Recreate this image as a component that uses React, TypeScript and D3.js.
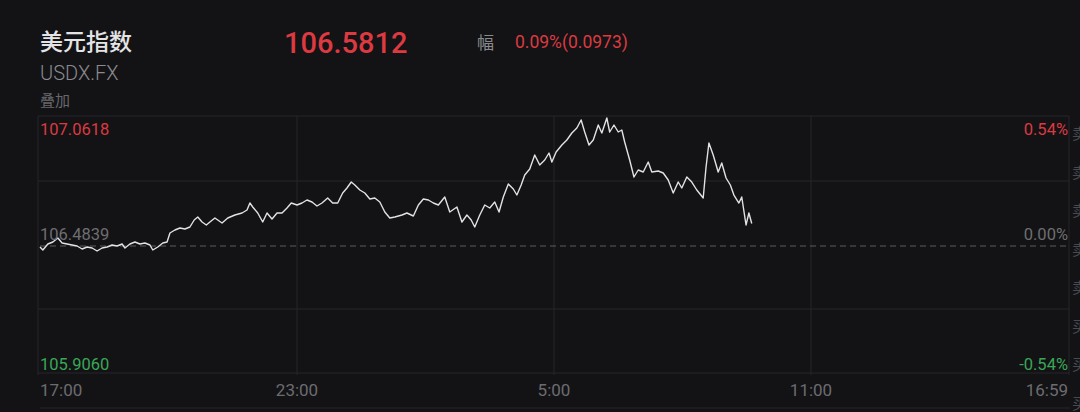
import React from "react";
import * as d3 from "d3";

// ---- data ----
const title = "美元指数";
const symbol = "USDX.FX";
const overlayLabel = "叠加";
const lastPrice = "106.5812";
const changeLabel = "幅";
const changeText = "0.09%(0.0973)";

const prevClose = 106.4839;
const priceHigh = 107.0618;
const priceLow = 105.906;
const priceTickLabels = ["107.0618", "106.4839", "105.9060"];
const pctTickLabels = ["0.54%", "0.00%", "-0.54%"];
const timeTickLabels = ["17:00", "23:00", "5:00", "11:00", "16:59"];
const timeTickMinutes = [0, 360, 720, 1080, 1440];
const sidePanelChars = ["卖", "卖", "卖", "卖", "卖", "买", "买", "买"];

// minutes since 17:00
const minutes = [
  0, 4, 11, 18, 25, 31, 38, 45, 52, 59, 66, 73, 80, 87, 94, 101, 108, 115, 119, 126,
  133, 140, 147, 154, 158, 165, 172, 178, 182, 189, 196, 203, 210, 216, 221, 227, 233, 238, 245, 255,
  263, 273, 283, 290, 294, 298, 305, 312, 318, 325, 332, 339, 346, 352, 360, 367, 374, 381, 388, 395,
  403, 410, 417, 424, 430, 436, 441, 448, 455, 462, 469, 476, 483, 490, 497, 507, 514, 523, 530, 537,
  544, 551, 558, 567, 574, 584, 591, 598, 604, 609, 616, 623, 630, 637, 643, 649, 656, 663, 668, 674,
  679, 686, 693, 700, 707, 713, 717, 723, 731, 738, 745, 752, 758, 763, 769, 775, 782, 787, 794, 798,
  804, 810, 815, 819, 826, 832, 838, 845, 852, 857, 866, 873, 880, 887, 894, 899, 906, 913, 920, 929,
  933, 937, 943, 950, 955, 961, 967, 972, 979, 983, 989, 993, 997,
];
const prices = [
  106.4749, 106.4613, 106.4884, 106.4974, 106.5155, 106.4929, 106.4884, 106.4839, 106.4794, 106.4658,
  106.4749, 106.4704, 106.4568, 106.4704, 106.4749, 106.4839, 106.4794, 106.4884, 106.4704, 106.4884,
  106.4974, 106.4884, 106.4929, 106.4839, 106.4613, 106.4749, 106.4929, 106.4974, 106.5381, 106.5516,
  106.5607, 106.5561, 106.5652, 106.5968, 106.6103, 106.5877, 106.5742, 106.5877, 106.6058, 106.5832,
  106.6058, 106.6193, 106.6284, 106.6419, 106.6735, 106.6555, 106.6284, 106.5877, 106.6284, 106.6013,
  106.6284, 106.6284, 106.6509, 106.6735, 106.6645, 106.6735, 106.6871, 106.678, 106.66, 106.6735,
  106.6961, 106.6735, 106.6735, 106.7187, 106.7412, 106.7683, 106.7548, 106.7322, 106.7187, 106.6916,
  106.6961, 106.678, 106.6329, 106.6058, 106.6103, 106.6193, 106.6284, 106.6148, 106.6645, 106.6916,
  106.6871, 106.6735, 106.6645, 106.7006, 106.6329, 106.6555, 106.5877, 106.6193, 106.5968, 106.5652,
  106.6193, 106.6645, 106.6509, 106.678, 106.6329, 106.7006, 106.7593, 106.7367, 106.7096, 106.7548,
  106.7999, 106.827, 106.8902, 106.8451, 106.8677, 106.8993, 106.8586, 106.9038, 106.9354, 106.958,
  106.9896, 107.0121, 107.0483, 106.9941, 106.9354, 106.958, 107.0257, 106.9896, 107.0573, 106.9941,
  107.0257, 106.9941, 107.0031, 106.9489, 106.8677, 106.7909, 106.8225, 106.8135, 106.8586, 106.8135,
  106.818, 106.809, 106.7774, 106.7187, 106.7683, 106.7412, 106.7909, 106.7683, 106.7322, 106.6961,
  106.8361, 106.9444, 106.8902, 106.8135, 106.8541, 106.7864, 106.7548, 106.7096, 106.6735, 106.7006,
  106.5742, 106.6284, 106.5812,
];

const W = 1080;
const H = 412;
const BG = "#131316";
const RED = "#dc3a40";
const GREEN = "#3aa757";
const GRID = "#26262a";
const NUM_FONT = "Roboto, 'Noto Sans', sans-serif";
const CJK_FONT = "'Noto Sans CJK SC', 'Noto Sans', sans-serif";

export default function App() {
  const left = 40;
  const right = 1068;
  const top = 117;
  const bottom = 373;

  const x = d3.scaleLinear().domain([0, 1440]).range([left, right]);
  const y = d3.scaleLinear().domain([priceLow, priceHigh]).range([bottom, top]);

  const pts = minutes.map((m, i) => [m, prices[i]] as [number, number]);
  const line = d3
    .line<[number, number]>()
    .x((d) => x(d[0]))
    .y((d) => y(d[1]))
    .curve(d3.curveLinear);

  const priceLevels = [priceHigh, prevClose, priceLow];
  const gridH = [priceHigh, (priceHigh + prevClose) / 2, (prevClose + priceLow) / 2, priceLow];
  const levelColors = [RED, "#6e6e70", GREEN];

  return (
    <div style={{ position: "fixed", left: 0, top: 0, width: W, height: H, background: BG, overflow: "hidden" }}>
      <svg width={W} height={H} style={{ display: "block" }}>
        <rect x={0} y={0} width={W} height={H} fill={BG} />

        {/* header */}
        <text x={40} y={50} fill="#e4e4e6" fontSize={23} fontWeight={500} fontFamily={CJK_FONT}>
          {title}
        </text>
        <text x={40} y={80} fill="#8a8a8e" fontSize={20} fontWeight={300} fontFamily={NUM_FONT}>
          {symbol}
        </text>
        <text x={40} y={106} fill="#68686c" fontSize={15} fontFamily={CJK_FONT}>
          {overlayLabel}
        </text>
        <text x={284} y={53} fill={RED} fontSize={29} fontWeight={500} fontFamily={NUM_FONT}>
          {lastPrice}
        </text>
        <text x={477} y={49} fill="#8a8a8e" fontSize={17} fontFamily={CJK_FONT}>
          {changeLabel}
        </text>
        <text x={515} y={48} fill={RED} fontSize={17.5} fontFamily={NUM_FONT}>
          {changeText}
        </text>

        {/* grid */}
        {gridH.map((v, i) => (
          <line key={"h" + i} x1={left - 2} x2={right + 1} y1={y(v) + (i === 0 ? -1 : 0)} y2={y(v) + (i === 0 ? -1 : 0)} stroke={GRID} strokeWidth={1} />
        ))}
        {timeTickMinutes.map((m, i) => (
          <line key={"v" + i} x1={x(m) + (i === 0 ? -2 : i === 4 ? 1 : 0)} x2={x(m) + (i === 0 ? -2 : i === 4 ? 1 : 0)} y1={top - 1} y2={bottom + 2} stroke={GRID} strokeWidth={1} />
        ))}
        <line x1={left} x2={right + 2} y1={408} y2={408} stroke={GRID} strokeWidth={1} />
        <line x1={left} x2={right} y1={y(prevClose) + 1} y2={y(prevClose) + 1} stroke="#5c5c60" strokeWidth={1.2} strokeDasharray="6,4" />

        {/* price line */}
        <path d={line(pts) || ""} fill="none" stroke="#e2e2e4" strokeWidth={1.4} strokeLinejoin="round" />

        {/* left price labels */}
        {priceTickLabels.map((t, i) => (
          <text key={"pl" + i} x={left} y={y(priceLevels[i]) + (i === 0 ? 18 : i === 1 ? -5 : -3)} fill={levelColors[i]} fontSize={16.5} fontFamily={NUM_FONT}>
            {t}
          </text>
        ))}
        {/* right pct labels */}
        {pctTickLabels.map((t, i) => (
          <text key={"pr" + i} x={right} y={y(priceLevels[i]) + (i === 0 ? 18 : i === 1 ? -5 : -3)} textAnchor="end" fill={levelColors[i]} fontSize={16.5} fontFamily={NUM_FONT}>
            {t}
          </text>
        ))}
        {/* time labels */}
        {timeTickLabels.map((t, i) => (
          <text
            key={"t" + i}
            x={x(timeTickMinutes[i])}
            y={396}
            textAnchor={i === 0 ? "start" : i === timeTickLabels.length - 1 ? "end" : "middle"}
            fill="#6c6c70"
            fontSize={17}
            fontFamily={NUM_FONT}
          >
            {t}
          </text>
        ))}

        {/* clipped side panel characters (cut off at the right edge, as in the reference) */}
        {sidePanelChars.map((c, i) => (
          <text key={"s" + i} x={1072} y={139 + i * 38.5} fill="#4a4a4e" fontSize={15} fontFamily={CJK_FONT}>
            {c}
          </text>
        ))}
      </svg>
    </div>
  );
}
